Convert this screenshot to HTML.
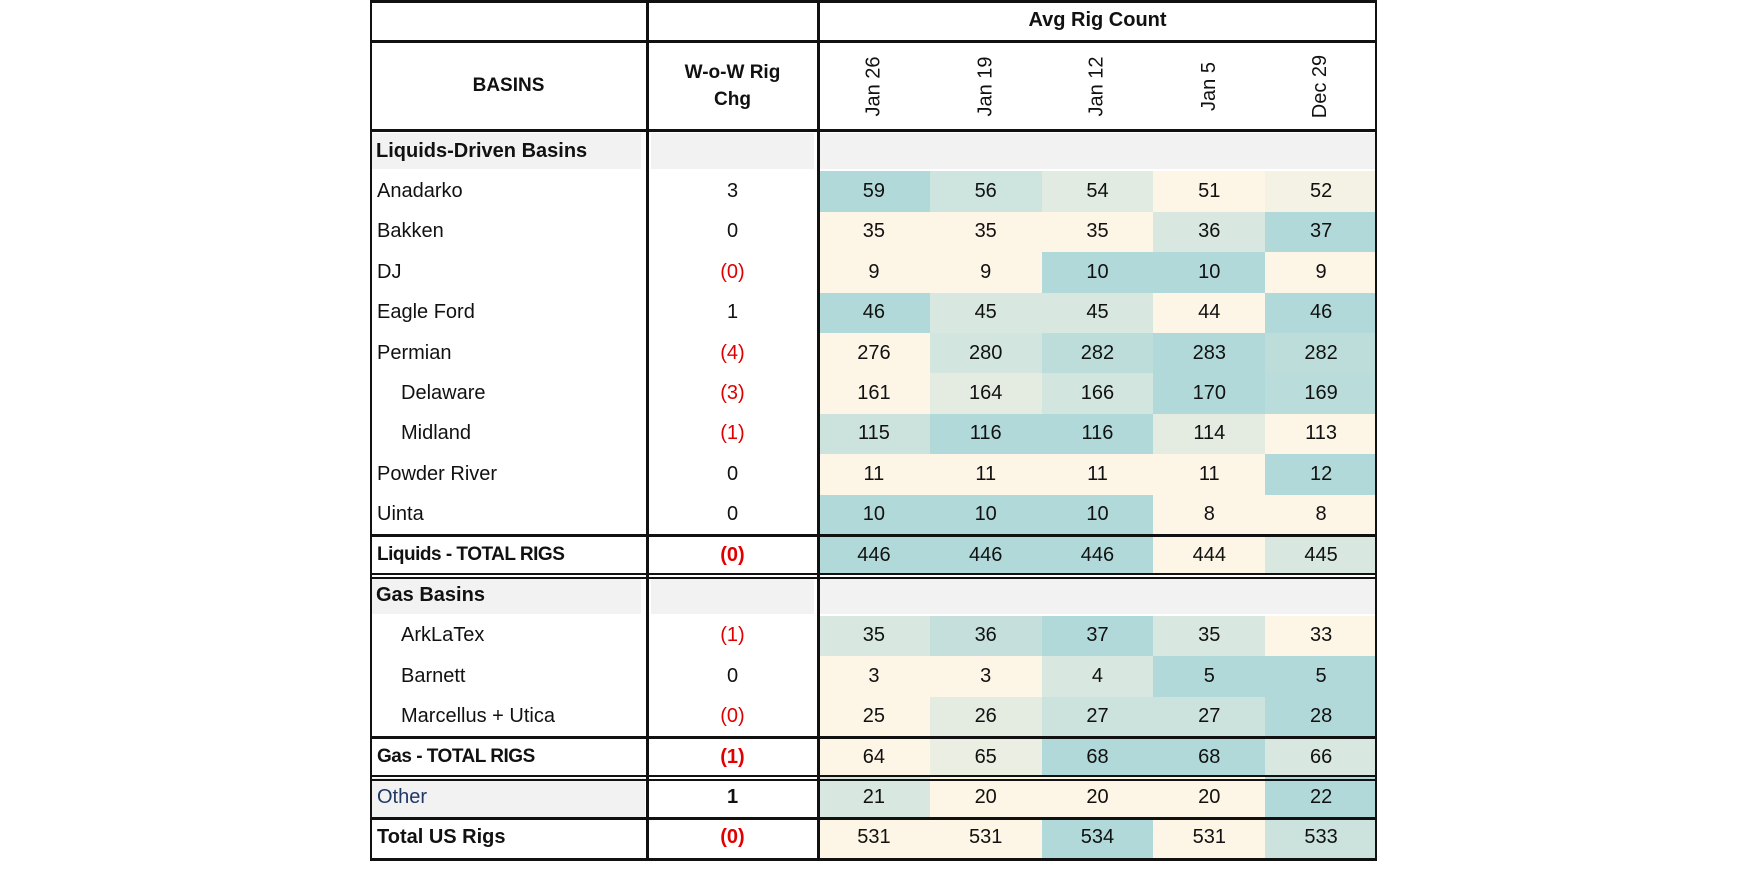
<!DOCTYPE html>
<html><head><meta charset="utf-8"><style>
body{margin:0;width:1750px;height:875px;background:#fff;position:relative;overflow:hidden;font-family:"Liberation Sans",sans-serif;color:#111}
.c{position:absolute;box-sizing:border-box;display:flex;align-items:center;font-size:20px}
.ln{position:absolute;background:#111}
</style></head><body>
<div id="tbl"></div>
<script>
const dates=["Jan 26","Jan 19","Jan 12","Jan 5","Dec 29"];
const rowLabels=["Liquids-Driven Basins","Anadarko","Bakken","DJ","Eagle Ford","Permian","Delaware","Midland","Powder River","Uinta","Liquids - TOTAL RIGS","Gas Basins","ArkLaTex","Barnett","Marcellus + Utica","Gas - TOTAL RIGS","Other","Total US Rigs"];
const rowTypes=["sec","n","n","n","n","n","i","i","n","n","tot","sec","i","i","i","tot","oth","tus"];
const wow=["","3","0","(0)","1","(4)","(3)","(1)","0","0","(0)","","(1)","0","(0)","(1)","1","(0)"];
const vals=[null,[59,56,54,51,52],[35,35,35,36,37],[9,9,10,10,9],[46,45,45,44,46],[276,280,282,283,282],[161,164,166,170,169],[115,116,116,114,113],[11,11,11,11,12],[10,10,10,8,8],[446,446,446,444,445],null,[35,36,37,35,33],[3,3,4,5,5],[25,26,27,27,28],[64,65,68,68,66],[21,20,20,20,22],[531,531,534,531,533]];

const L=370,C1=647,C2=818,R=1377,TOP=0,H1=41,H2=131,RH=40.4;
const CW=(R-C2)/5;
const root=document.getElementById('tbl');
function cell(x,y,w,h,txt,css){const d=document.createElement('div');d.className='c';d.style.cssText=`left:${x}px;top:${y}px;width:${w}px;height:${h}px;`+(css||'');if(txt!==undefined)d.textContent=txt;root.appendChild(d);return d;}
function line(x,y,w,h){const d=document.createElement('div');d.className='ln';d.style.cssText=`left:${x}px;top:${y}px;width:${w}px;height:${h}px`;


root.appendChild(d);}
function mix(t){const a=[253,245,230],b=[178,217,217];return `rgb(${a.map((v,i)=>Math.round(v+(b[i]-v)*t)).join(',')})`;}

let h=cell(C2,0,R-C2,H1,"Avg Rig Count","justify-content:center;font-weight:bold;");


h=cell(L,H1,C1-L,H2-H1,"BASINS","justify-content:center;font-weight:bold;font-size:19px;");


h=cell(C1,H1,C2-C1,H2-H1,"","justify-content:center;font-weight:bold;font-size:19px;text-align:center;line-height:27px;");
h.innerHTML="W-o-W Rig<br>Chg";


dates.forEach((d,i)=>{const e=cell(C2+i*CW,H1,CW,H2-H1,"","justify-content:center;");
e.innerHTML=`<span style="transform:rotate(-90deg);white-space:nowrap;display:inline-block;font-size:20px">${d}</span>`;

});

rowLabels.forEach((lab,r)=>{
 const y=H2+r*RH,t=rowTypes[r];
 if(t==='sec'){
  let e=cell(L+2,y+2,C1-L-8,RH-4,lab,"padding-left:4px;font-weight:bold;background:#f2f2f2;");
  
  
  e=cell(C1+4,y+2,C2-C1-8,RH-4,"","background:#f2f2f2;");
  
  
  e=cell(C2+2,y+2,R-C2-4,RH-4,"","background:#f2f2f2;");
  
  
  return;}
 let css="padding-left:"+(t==='i'?29:5)+"px;";
 if(t==='tot')css+="font-weight:bold;font-size:19px;letter-spacing:-0.5px;";
 if(t==='tus')css+="font-weight:bold;font-size:20px;";
 if(t==='oth')css+="background:#f2f2f2;color:#1f3864;";
 let e=cell(L+2,y+1,C1-L-4,RH-2,lab,css);
 
 
 const neg=wow[r].startsWith('(');
 e=cell(C1,y,C2-C1,RH,wow[r],"justify-content:center;"+(neg?"color:#e00000;":"")+((t==='tot'||t==='oth'||t==='tus')?"font-weight:bold;":""));
 
 
 const v=vals[r],mn=Math.min(...v),mx=Math.max(...v);
 v.forEach((x,i)=>{const tt=mx===mn?0:(x-mn)/(mx-mn);
  const c=cell(C2+i*CW,y,CW,RH,String(x),"justify-content:center;background:"+mix(tt)+";");
  
  });
});

line(L,0,R-L,3);line(L,H1-1,R-L,3);line(L,H2-2,R-L,3);
line(L,858,R-L,3);
line(L,0,2,861);line(C1-1,0,3,861);line(C2-1,0,3,861);line(R-2,0,2,861);
line(L,H2+10*RH-1,R-L,3);
line(L,H2+11*RH-2,R-L,2);line(L,H2+11*RH+2,R-L,2);
line(L,H2+15*RH-1,R-L,3);
line(L,H2+16*RH-2,R-L,2);line(L,H2+16*RH+2,R-L,2);
line(L,H2+17*RH-1,R-L,3);
</script>
</body></html>
